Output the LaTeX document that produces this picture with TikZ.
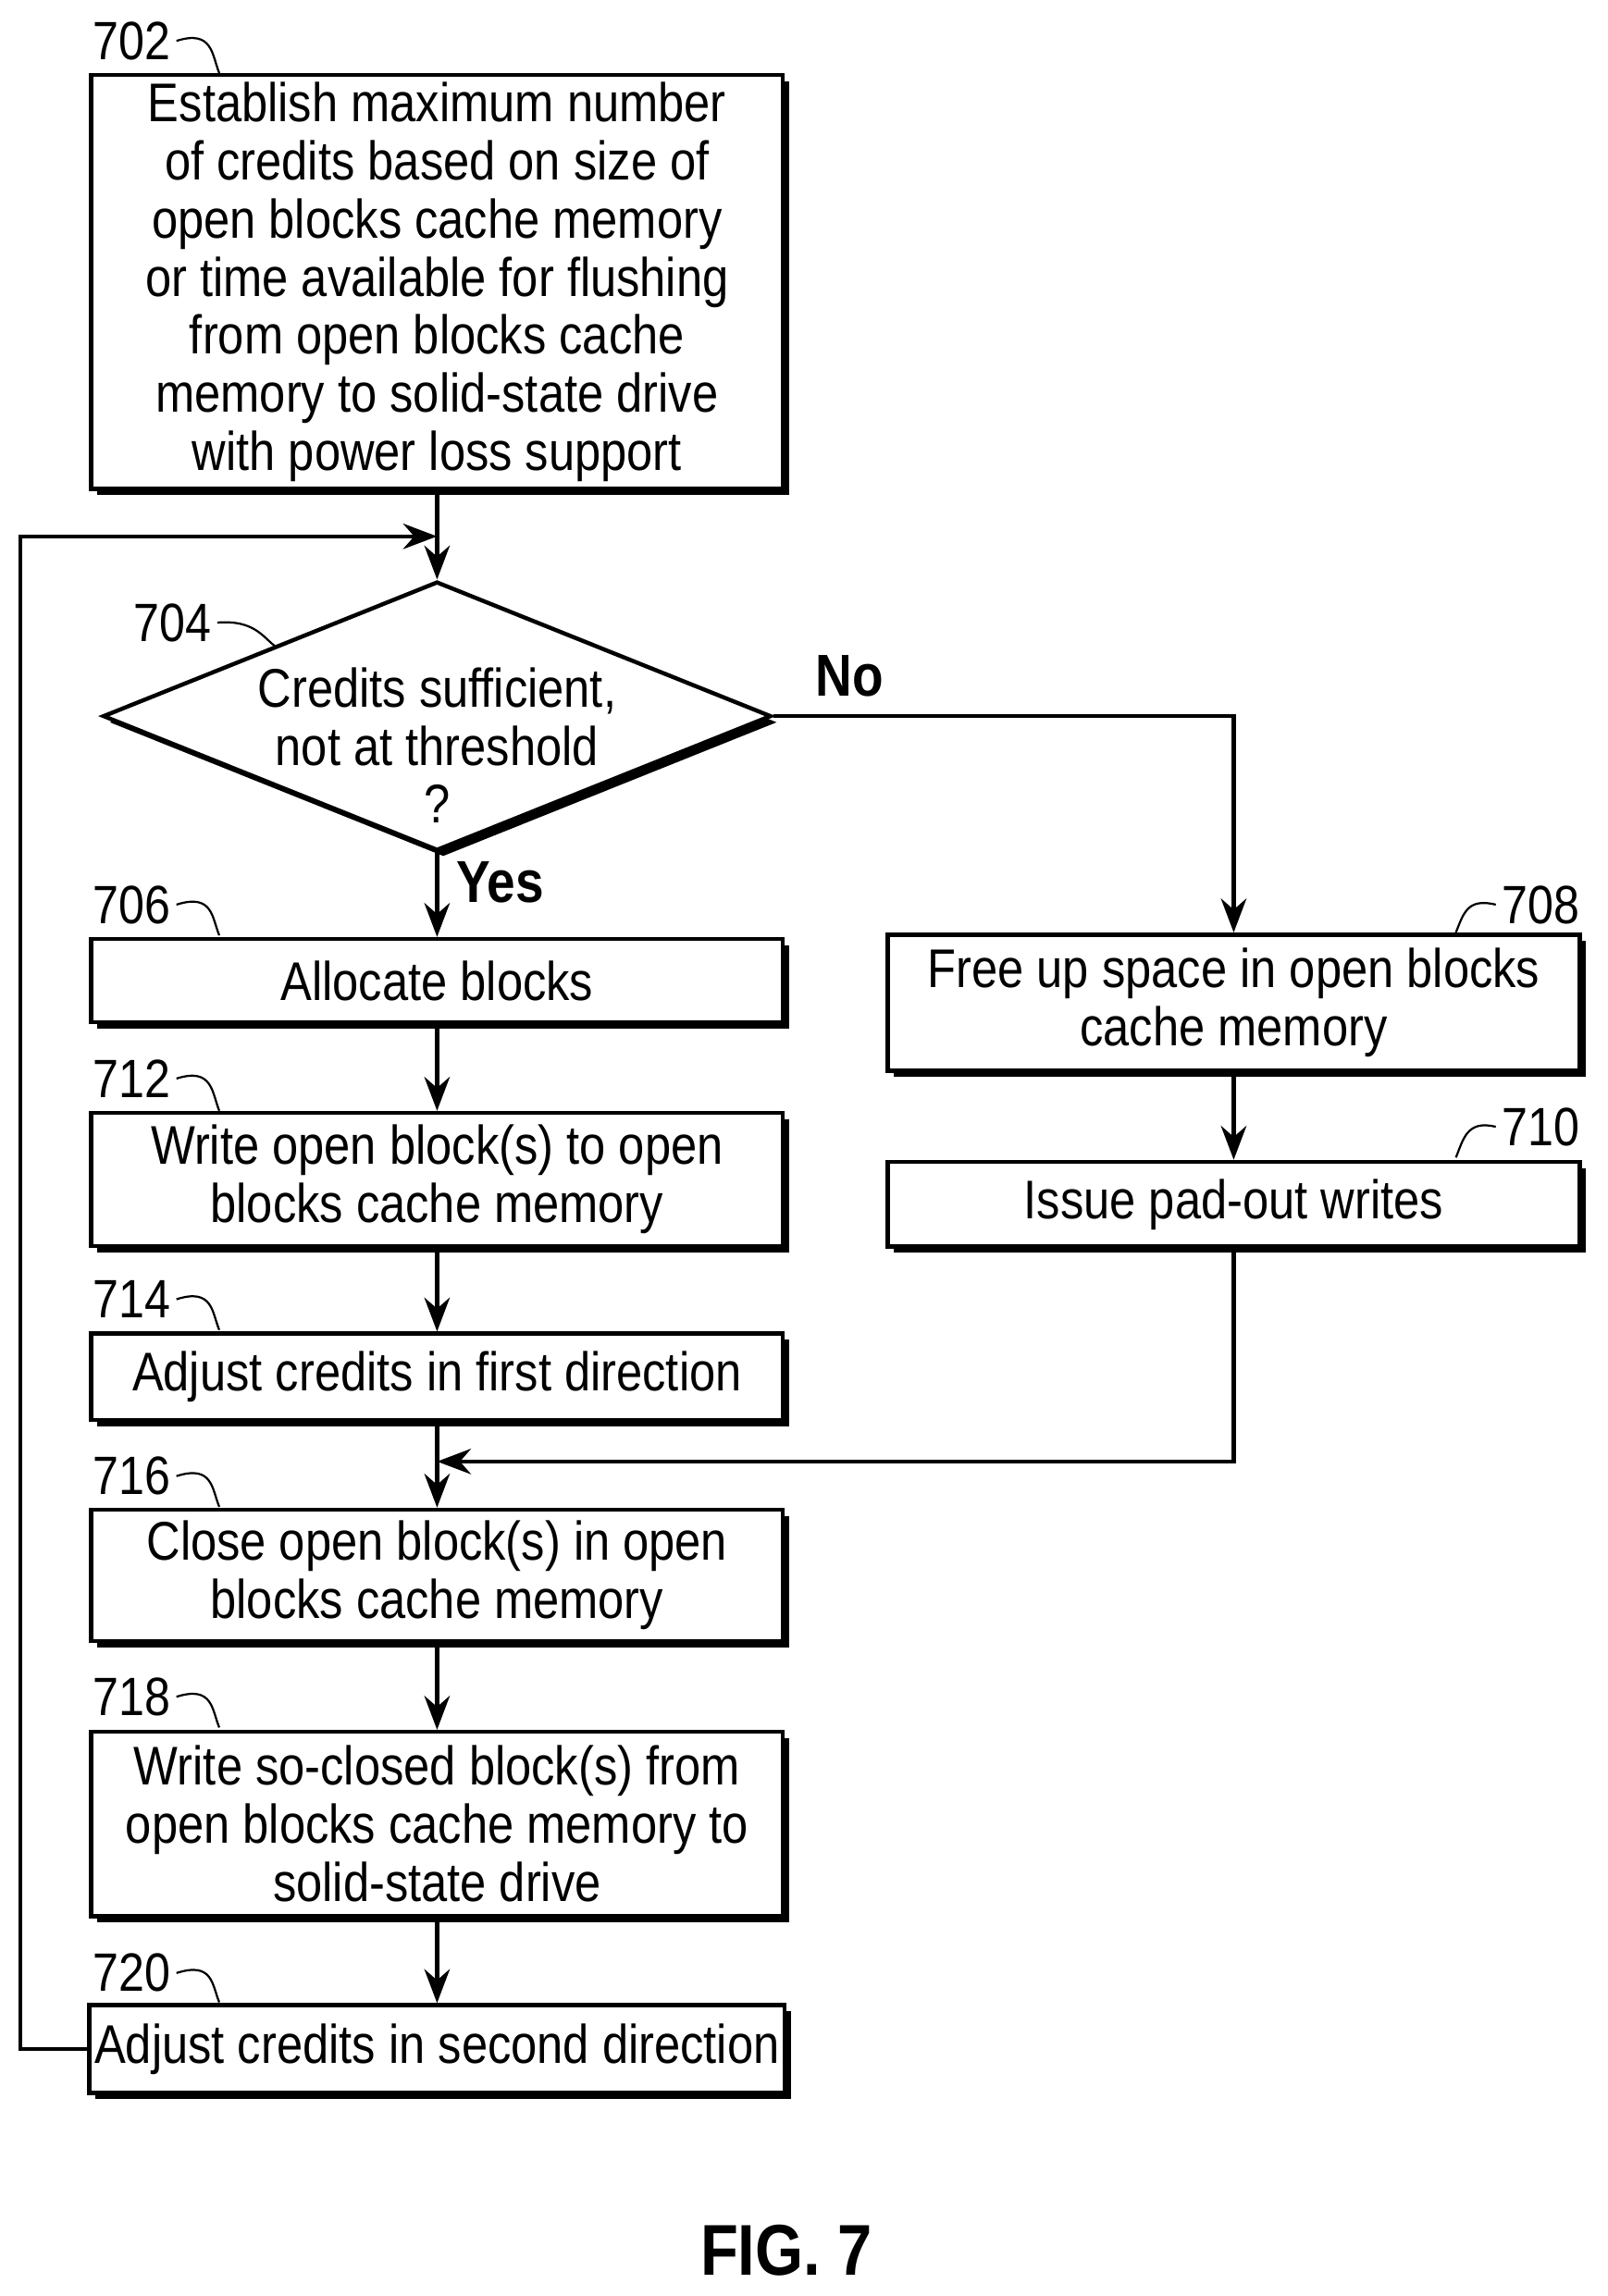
\documentclass[tikz,border=0pt]{standalone}
\usepackage{fontspec}
\setmainfont{Liberation Sans}[FakeStretch=0.86]
\usetikzlibrary{positioning, shapes.geometric, shadows, arrows.meta}
\tikzset{
  >=Stealth,
  txt/.style={font=\fontsize{10.6}{11.3}\selectfont},
  box/.style={draw, thick, fill=white, minimum width=4.73cm, align=center, txt, inner sep=1pt,
    drop shadow={shadow xshift=1.2pt, shadow yshift=-1.2pt, fill=black, opacity=1}},
  ref/.style={font=\fontsize{10.5}{12}\selectfont, inner sep=1pt},
  lead/.style={thin},
  flow/.style={thick, ->},
  answer/.style={font=\bfseries\fontsize{11.5}{13}\selectfont},
}
\begin{document}
\begin{tikzpicture}[x=0.01cm, y=-0.01cm]
  \useasboundingbox (0,0) rectangle (1100,1571);
  % boxes
  \node[box, minimum height=2.83cm] (b702) at (299,193) {Establish maximum number\\of credits based on size of\\open blocks cache memory\\or time available for flushing\\from open blocks cache\\memory to solid-state drive\\with power loss support};
  \node[draw, thick, diamond, aspect=2.48, minimum width=4.57cm, minimum height=1.84cm, inner sep=0pt, fill=white,
    drop shadow={shadow xshift=1.2pt, shadow yshift=-1.2pt, fill=black, opacity=1}] (d704) at (299,490) {};
  \node[txt, align=center, inner sep=0pt] (t704) at (299,510) {Credits sufficient,\\not at threshold\\?};
  \node[box, minimum height=0.57cm] (b706) at (299,671) {Allocate blocks};
  \node[box, minimum height=0.91cm] (b712) at (299,807) {Write open block(s) to open\\blocks cache memory};
  \node[box, minimum height=0.59cm] (b714) at (299,942) {Adjust credits in first direction};
  \node[box, minimum height=0.90cm] (b716) at (299,1078) {Close open block(s) in open\\blocks cache memory};
  \node[box, minimum height=1.26cm] (b718) at (299,1248) {Write so-closed block(s) from\\open blocks cache memory to\\solid-state drive};
  \node[box, minimum height=0.60cm] (b720) at (299,1402) {Adjust credits in second direction};
  \node[box, minimum height=0.93cm] (b708) at (844,686) {Free up space in open blocks\\cache memory};
  \node[box, minimum height=0.58cm] (b710) at (844,824) {Issue pad-out writes};

  % reference numbers
  \node[ref] (r702) at (90,28) {702};
  \node[ref] (r704) at (118,426) {704};
  \node[ref] (r706) at (90,619) {706};
  \node[ref] (r712) at (90,738) {712};
  \node[ref] (r714) at (90,889) {714};
  \node[ref] (r716) at (90,1010) {716};
  \node[ref] (r718) at (90,1161) {718};
  \node[ref] (r720) at (90,1350) {720};
  \node[ref] (r708) at (1054,619) {708};
  \node[ref] (r710) at (1054,771) {710};
  \foreach \r/\x/\y in {702/150/50, 706/150/640, 712/150/760, 714/150/910, 716/150/1031, 718/150/1182, 720/150/1370}
    \draw[lead] (r\r.east) .. controls +(25,-8) and +(-5,-12) .. (\x,\y);
  \draw[lead] (r704.east) .. controls +(25,-2) and +(-8,-6) .. (188,442);
  \draw[lead] (r708.west) .. controls +(-20,-5) and +(5,-12) .. (996,638);
  \draw[lead] (r710.west) .. controls +(-20,-5) and +(5,-12) .. (996,792);

  % connectors
  \coordinate (loopL) at (14,1402);
  \coordinate (loopT) at (14,367);
  \coordinate (noC) at (844,490);
  \coordinate (padC) at (844,1000);
  \coordinate (joinC) at (299,1000);
  \draw[flow] (b702) -- (d704);
  \draw[flow] (d704.south) -- node[right, answer, pos=0.35] {Yes} (b706);
  \draw[flow] (d704.east) -- node[above right, answer, pos=0.05] {No} (noC) -- (b708);
  \draw[flow] (b706) -- (b712);
  \draw[flow] (b712) -- (b714);
  \draw[flow] (b714) -- (b716);
  \draw[flow] (b716) -- (b718);
  \draw[flow] (b718) -- (b720);
  \draw[flow] (b708) -- (b710);
  \draw[flow] (b710) -- (padC) -- (joinC);
  \draw[flow] (b720.west) -- (loopL) -- (loopT) -- (299,367);

  \node[font=\bfseries\fontsize{14}{16}\selectfont] (fig) at (538,1540) {FIG. 7};
\end{tikzpicture}
\end{document}
